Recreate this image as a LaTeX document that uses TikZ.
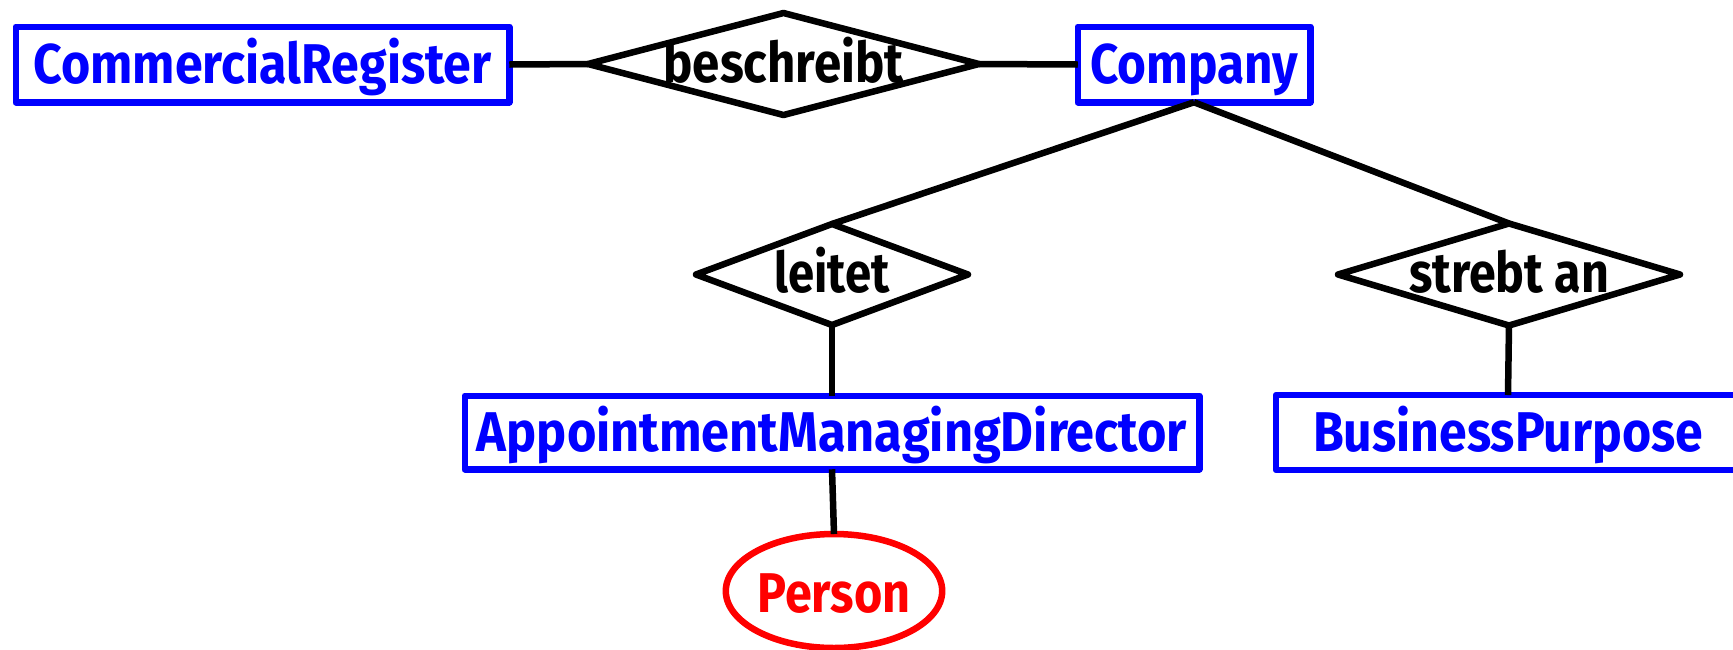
\documentclass[tikz,border=0pt]{standalone}
\usepackage{fontspec}
\setmainfont{Fira Sans}
\usepackage{graphicx}
\usetikzlibrary{shapes.geometric}
\definecolor{entblue}{RGB}{0,0,255}
\definecolor{attred}{RGB}{255,0,0}
\newcommand\fitw[2]{\resizebox{#1pt}{\height}{#2}}
\tikzset{
  every node/.style={inner sep=0pt, outer sep=0pt, font=\fontsize{56}{60}\selectfont\bfseries},
  entity/.style={draw=entblue, text=entblue, line width=6.5pt, rectangle, line join=round,
                 text height=37pt, text depth=0pt},
  relation/.style={draw=black, text=black, line width=6.5pt, diamond, line join=round,
                 text height=36pt, text depth=0pt},
  attribute/.style={draw=attred, text=attred, line width=6.5pt, ellipse,
                 text height=42pt, text depth=0pt},
  link/.style={draw=black, line width=6.5pt}
}
\begin{document}
\begin{tikzpicture}[x=1pt,y=-1pt]
\useasboundingbox (0,0) rectangle (1733,649);
\clip (0,0) rectangle (1733,649);
% entities
\node[entity, minimum width=493.5pt, minimum height=75.5pt] (cr) at (262.5,64.5) {\fitw{458}{CommercialRegister}};
\node[entity, minimum width=232.5pt, minimum height=75.5pt] (co) at (1194,64.5) {\fitw{208}{Company}};
\node[entity, minimum width=734.5pt, minimum height=73.5pt] (amd) at (832,432.5) {\fitw{710}{AppointmentManagingDirector}};
\node[entity, minimum width=464pt, minimum height=75pt] (bp) at (1508,432.5) {\fitw{390}{BusinessPurpose}};
% relations
\node[relation, aspect=3.83, minimum width=391pt, minimum height=102pt] (be) at (783.5,64) {\fitw{240}{beschreibt}};
\node[relation, aspect=2.69, minimum width=272pt, minimum height=101pt] (le) at (832,274.5) {\fitw{115}{leitet}};
\node[relation, aspect=3.37, minimum width=342pt, minimum height=102pt] (sa) at (1509,274.5) {\fitw{200}{strebt an}};
% attribute
\node[attribute, minimum width=216pt, minimum height=114pt] (pe) at (834,591) {\fitw{153}{Person}};
% connectors
\draw[link] (cr.east) -- (be.west);
\draw[link] (be.east) -- (co.west);
\draw[link] (co.south) -- (le.north);
\draw[link] (co.south) -- (sa.north);
\draw[link] (le.south) -- (amd.north);
\draw[link] (sa.south) -- (bp.north);
\draw[link] (amd.south) -- (pe.north);
\end{tikzpicture}
\end{document}
